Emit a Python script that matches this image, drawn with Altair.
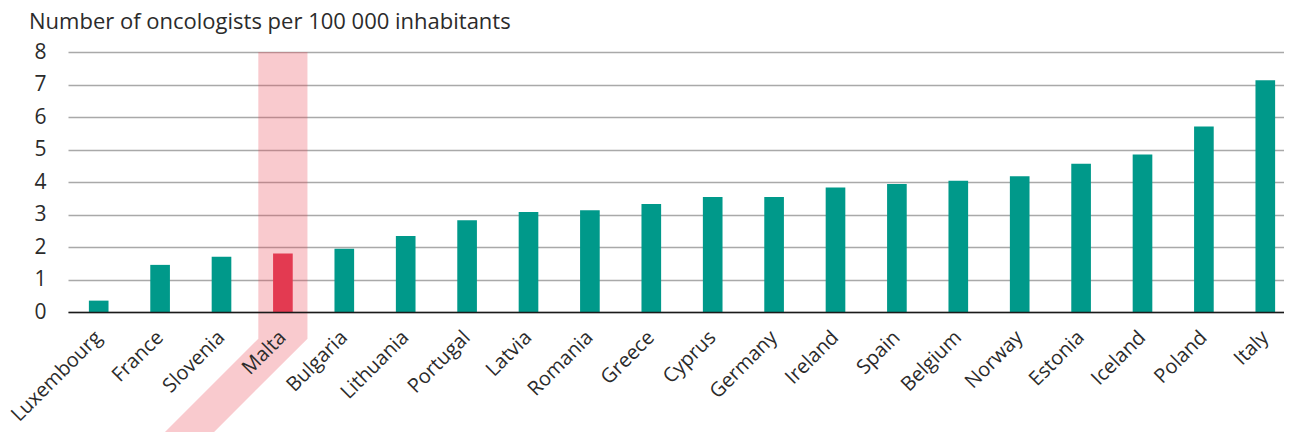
import altair as alt
import pandas as pd

countries = ["Luxembourg", "France", "Slovenia", "Malta", "Bulgaria", "Lithuania",
             "Portugal", "Latvia", "Romania", "Greece", "Cyprus", "Germany", "Ireland",
             "Spain", "Belgium", "Norway", "Estonia", "Iceland", "Poland", "Italy"]
values = [0.35, 1.45, 1.70, 1.80, 1.95, 2.34, 2.82, 3.08, 3.13, 3.32,
          3.54, 3.54, 3.83, 3.94, 4.04, 4.18, 4.56, 4.85, 5.71, 7.13]
highlight = "Malta"
y_ticks = [0, 1, 2, 3, 4, 5, 6, 7, 8]
title_text = "Number of oncologists per 100 000 inhabitants"

FONT = "Open Sans"
TEAL = "#00998A"
RED = "#E33A51"
W, H = 1216, 260
RANGE_W = 1228
N = len(countries)

df = pd.DataFrame({"country": countries, "value": values})
df["hl"] = [c == highlight for c in countries]

# highlight band (annotation): vertical strip behind the highlighted bar,
# continuing diagonally (45 deg) along its rotated label
centre = countries.index(highlight) + 0.5
half = 0.4
knee = -0.82
bottom = -3.95
shift = (knee - bottom) * (H / 8) / (RANGE_W / N)
hl_df = pd.DataFrame({
    "y": [8, knee, bottom],
    "x": [centre - half, centre - half, centre - half - shift],
    "x2": [centre + half, centre + half, centre + half - shift],
})

y_axis = alt.Axis(values=y_ticks, grid=True, gridColor="#a9a9a9", gridWidth=1.5,
                  domain=False, ticks=False, labelPadding=22, labelFontSize=21,
                  labelColor="#2b2b2b", labelFont=FONT, title=None)
y_scale = alt.Scale(domain=[0, 8], nice=False, zero=False)

band = alt.Chart(hl_df).mark_area(orient="horizontal", color="#E8404F",
                                  opacity=0.28).encode(
    y=alt.Y("y:Q", scale=y_scale, axis=y_axis),
    x=alt.X("x:Q", scale=alt.Scale(domain=[0, N], range=[0, RANGE_W], nice=False,
                                   zero=False), axis=None, stack=None),
    x2="x2:Q",
)

bars = alt.Chart(df).mark_bar().encode(
    x=alt.X("country:N", sort=countries,
            scale=alt.Scale(range=[0, RANGE_W], paddingInner=0.68, paddingOuter=0.34),
            axis=alt.Axis(labelAngle=-45, labelAlign="right", labelBaseline="middle",
                          labelPadding=22, labelFontSize=20, labelColor="#2b2b2b",
                          labelFont=FONT, ticks=False, domainColor="#1a1a1a",
                          domainWidth=1.6, zindex=1, title=None, labelOverlap=False)),
    y=alt.Y("value:Q", scale=y_scale, axis=y_axis),
    color=alt.Color("hl:N", scale=alt.Scale(domain=[False, True], range=[TEAL, RED]),
                    legend=None),
)

chart = alt.layer(band, bars).resolve_scale(x="independent").properties(
    width=W, height=H,
    autosize=alt.AutoSizeParams(type="none"),
    padding={"left": 60, "top": 44, "right": 0, "bottom": 120},
    title=alt.TitleParams(title_text, anchor="start", fontSize=22, fontWeight="normal",
                          font=FONT, color="#2b2b2b", dx=-39, offset=7,
                          frame="group"),
).configure_view(stroke=None)

chart.save("out.html", embed_options={"renderer": "svg", "actions": False})
